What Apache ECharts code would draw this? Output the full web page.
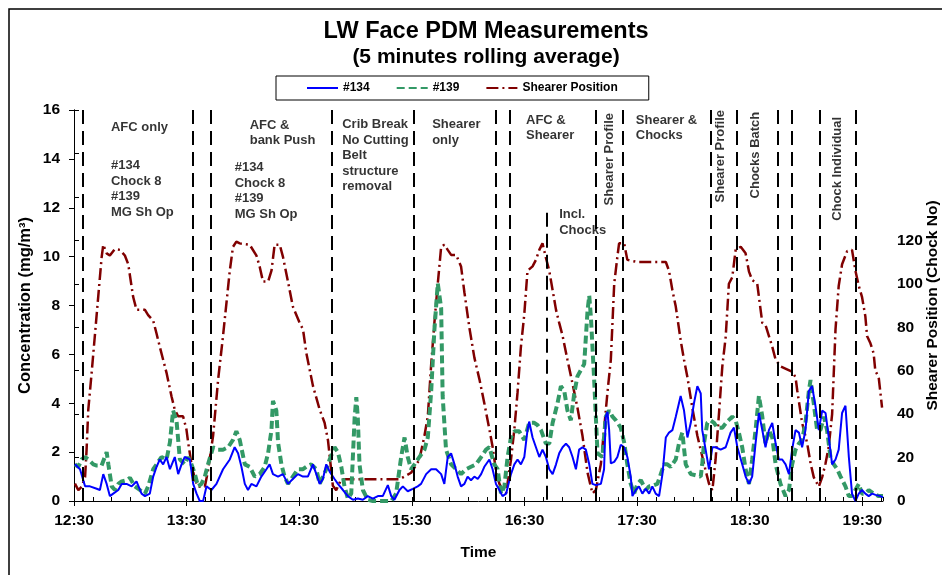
<!DOCTYPE html>
<html><head><meta charset="utf-8">
<script src="https://cdn.jsdelivr.net/npm/echarts@6/dist/echarts.min.js"></script>
<style>html,body{margin:0;padding:0;background:#fff;overflow:hidden}#c{width:942px;height:575px}</style>
</head><body><div id="c"></div><script>
// ---- data (time = minutes after 12:30) ----
const t134 = [0.5,3.2,5.9,8.5,12.1,13.8,15.6,17.4,19.1,20.9,23.6,25.4,28,30.7,33.3,36,37.8,40.4,42.2,44,45.7,47.5,49.3,51.1,53.7,55.5,57.3,59,61.7,63.5,65.3,67,68.8,70.6,73.2,75.9,79.4,83,85.6,87.4,89.2,91,92.7,94.5,97.2,99.8,102.5,104.2,106,108.7,111.3,114,116.6,119.3,122,124.6,127.3,129.1,130.9,132.6,134.4,136.2,138.8,140.6,143.3,145.9,148.6,151.2,153.9,156.5,159.2,161.9,164.5,167.2,169,170.7,173.4,175.2,177.8,180.5,183.1,184.9,187.6,190.3,192.9,195.6,197.3,199.1,200.9,202.7,204.4,206.2,208,209.7,211.5,213.3,215.1,216.9,218.6,221.3,223,224.8,226.6,228.3,230.2,232.8,234.6,236.3,238.1,239.9,241.6,242.5,244.3,246.1,247.9,249.6,251.4,253.2,255,256.8,258.5,260.3,262.1,263.8,265.6,267.4,269.1,270.9,272.7,274.5,276.2,278,280.7,282.4,283.3,284.2,285.1,286,287.8,289.5,291.3,293.1,294.8,296.6,297.5,299.3,301,302.8,304.6,306.4,308.1,309.9,311.7,313.5,315.3,317,318.8,320.6,323.2,325,326.8,328.6,330.3,332.1,333.9,334.7,336.5,338.3,340.1,341.8,344.5,347.2,349.8,351.6,353.4,356,357.8,359.6,361.3,363.1,364.9,366.7,368.4,370.2,372,373.8,375.5,377.3,379.1,380.9,382.6,384.4,386.2,387.9,389.7,391.5,393.2,395,396.8,398.6,400.4,402.1,403.9,405.7,407.4,409.2,411,412.8,414.5,416.3,418.1,419.8,421.6,423.4,425.2,427,429.6,431];
const v134 = [1.5,1.3,0.6,0.6,0.5,0.45,1.1,0.7,0.2,0.3,0.45,0.7,0.7,0.6,0.8,0.3,0.2,0.3,1.0,1.4,1.7,1.5,1.8,1.3,1.8,1.1,1.5,1.8,1.7,0.7,0.3,0,0,0.6,0.45,0.7,1.3,1.7,2.2,1.95,1.4,0.7,0.45,0.7,0.6,1.0,1.3,1.5,1.1,1.0,1.1,0.7,0.9,1.1,1.0,1.0,1.5,1.1,0.7,0.9,1.5,1.2,0.9,0.7,0.45,0.2,0.05,0.1,0.05,0.2,0.1,0.2,0.2,0.65,0.2,0.05,0.45,0.6,0.4,0.5,0.6,0.7,1.1,1.3,1.3,1.1,0.7,1.8,1.95,1.5,1.0,0.6,0.7,1.0,0.85,1.0,0.9,1.1,1.4,1.7,1.3,0.7,0.45,0.2,0.3,1.1,1.5,1.7,1.5,1.8,2.9,3.25,2.6,2.2,1.8,2.1,1.8,1.3,1.1,1.5,1.95,2.2,2.35,2.2,1.8,1.3,2.1,2.2,2.1,1.5,0.7,0.65,0.7,1.3,3.45,3.65,2.9,1.54,1.6,1.8,2.3,2.2,1.8,1.0,0.2,0.45,0.6,0.3,0.5,0.3,0.6,0.3,0.2,1.1,2.6,2.8,2.9,3.45,4.3,3.7,2.6,3.2,4.0,4.7,4.4,2.9,2.1,1.3,2.2,2.2,2.1,2.2,2.8,3.0,2.2,1.5,1.0,0.7,1.0,2.35,3.6,2.9,2.2,2.9,3.2,2.35,1.7,1.7,1.5,1.1,2.1,2.9,2.8,2.2,2.9,4.5,4.7,3.9,2.9,3.7,3.6,2.6,1.5,1.7,2.1,3.6,3.9,1.8,0.3,0.0,0.3,0.45,0.3,0.2,0.3,0.25,0.2,0.15];

const t139 = [0.5,2.3,4.1,5.9,7.6,10.3,12.1,14.7,17.4,18.3,20.1,21.8,23.6,25.4,28,29.8,32.4,35.1,37.8,39.5,42.2,44,46.6,49.3,51.1,52.8,54.6,56.4,59,60.8,62.6,64.4,66.1,67.9,69.7,71.4,74.1,76.8,79.4,82.1,84.7,86.5,88.3,91,93.6,96.3,98.9,101.6,103.4,105.2,106,107.8,108.7,110.5,112.2,114,116.6,119.3,122,123.8,126.4,129.1,130.9,134.4,136.2,138.8,140.6,142.4,144.1,145.9,147.7,149.5,150.4,151.2,152.1,153.9,156.5,159.2,164.5,169,171.6,174.3,176.1,177.8,179.6,181.4,184,186.7,188.5,190.3,192,193.8,195.6,196.4,198.2,200.9,203.6,206.2,208.9,211.5,214.2,216.9,219.5,221.3,223.9,225.7,227.5,229.3,231,232.8,234.6,237.2,239.9,242.5,245.2,247,248.8,251.4,253.2,255,257.6,259.4,261.2,262.9,264.7,266.5,268.2,270,271.8,273.6,274.5,275.4,277.1,278.9,281.5,283.3,285.1,286.9,288.7,291.3,293.1,294.8,296.6,298.4,300.2,302,304.6,306.4,309,310.8,312.6,314.4,316.1,317.9,320.6,322.3,324.1,325.9,328.6,331.2,333.9,334.7,335.6,337.4,339.2,341,342.7,345.4,348,350.7,352.5,354.2,356,357.8,359.6,361.3,363.1,364.9,366.7,368.4,370.2,372,373.8,376.4,379.1,380.9,382.6,384.4,386.2,387.9,389.7,391.5,392.4,394.1,395.9,397.7,399.5,401.2,403,404.8,406.6,408.4,411,412.8,414.5,416.3,418.1,419.8,421.6,423.4,426,428.7,431];
const v139 = [1.5,1.4,1.7,1.8,1.7,1.5,1.45,1.45,2.0,1.5,0.6,0.45,0.7,0.8,0.85,0.95,0.6,0.45,0.3,0.6,1.3,1.5,1.8,1.7,2.4,3.7,3.3,1.7,1.5,1.8,1.5,1.1,0.6,0.7,1.0,1.5,2.2,2.1,2.1,2.2,2.5,2.85,2.5,1.5,1.4,1.0,1.1,1.4,1.95,2.9,4.1,3.7,2.4,1.5,1.0,0.7,1.0,1.3,1.3,1.4,1.5,1.3,0.7,1.3,1.7,2.2,2.0,1.4,0.6,0.1,0.3,3.4,4.25,3.4,1.5,0.45,0.05,0,0,0,0.3,1.8,2.6,1.8,1.3,1.5,1.8,2.1,2.6,4.5,7.0,8.9,7.9,4.3,2.1,1.5,1.3,1.1,1.3,1.4,1.5,1.8,2.1,2.2,1.5,1.3,0.3,0.6,1.8,2.6,2.85,2.85,2.5,3.2,3.2,3.1,2.9,2.35,2.35,3.2,4.0,4.7,4.5,3.7,3.3,4.4,5.1,5.35,5.6,7.8,8.4,7.5,5.0,1.95,1.8,3.45,3.7,3.45,3.3,3.0,2.4,1.5,0.7,0.3,0.7,0.85,0.45,0.6,0.65,0.7,1.1,1.5,1.5,1.4,1.7,2.35,2.8,1.5,1.1,1.05,1.0,1.5,2.35,3.2,3.3,3.2,3.0,3.0,3.25,3.45,3.3,2.8,2.2,1.3,0.7,1.7,2.9,4.3,3.45,2.35,2.9,2.6,1.5,0.7,0.2,0.45,1.5,2.1,2.35,2.5,3.2,4.5,4.95,4.0,2.9,2.9,3.45,2.9,1.8,1.5,1.3,1.0,0.6,0.2,0.2,0.45,0.7,0.3,0.3,0.45,0.3,0.2,0.2];

const tShearer = [0.5,2.3,4.1,5.9,6.7,7.6,9.4,11.2,12.9,14.7,15.6,17.4,19.1,21.8,24.5,27.1,28.9,31.5,33.3,37.8,39.5,42.2,44,45.7,49.3,52,53.7,55.5,58.1,59.9,60.8,62.6,64.4,66.1,69.7,71.4,74.1,76.8,79.4,81.2,83,84.7,86.5,88.3,93.6,97.2,98.9,100.7,103.4,105.2,106.9,109.6,111.3,114,116.6,120.2,122,123.8,127.3,130.9,133.5,135.3,136.8,137.9,139.7,142.4,173.4,179.6,184,186.7,188.5,190.3,192,193.8,195.6,197.3,199.1,200.9,203.6,206.2,208,210.6,213.3,216,218.6,221.3,223,224.8,226.6,228.3,230.2,232.8,234.6,236.3,238.1,239.9,241.6,244.3,246.1,247.9,249.6,251.4,253.2,255,256.8,258.5,260.3,262.9,265.6,268.2,270.9,273.6,276.2,278,280.7,282.4,284.2,286,287.8,289.5,290.4,293.1,294.8,300.2,315.3,317,318.8,320.6,323.2,325,326.8,329.4,332.1,333.9,336.5,338.3,340.1,341.8,343.6,345.4,347.2,348.9,350.7,352.5,355.2,357.8,359.6,361.3,364,366.7,368.4,372,373.8,376.4,382.6,384.4,385.3,387.9,390.6,392.4,394.1,396.8,398.6,400.4,402.1,403.9,405.7,407.4,409.2,411.9,414.5,416.3,418.1,419.8,421.6,422.5,424.3,426,426.9,428.7,429.6,430.5];
const vShearer = [8,5,6.6,11,23.5,42,59,77,94,112,118,114,113,116,115.6,113,109,94,88,88,85.6,83,77,71,59,48,42,39,39,33,27,17,10,6.6,6.6,14,30,56,76,91,106,117,119.4,118.6,118,113,108,101,101,106,118,118,112.5,101,89.5,82,79,68,53,42,36,28,16,7,5,10,10,13,19,30,39,63,82,100,117,118,115.6,113.3,113.3,108,96,80,66,56,45,33,25,14,8,5,3.5,19,33,50,71,86,106,108,111,115.6,118.6,112,106,97,88,82,76,65,54,43,30,13,3.5,5,17,33,50,65,100,112.5,118.6,118.6,111,110,110,106,97,89.5,74,65,57,43,30,23.5,14,8,5,19,40,62,75.6,100,103,115.6,117,114,105.6,101.7,100,82,81,71,65,62,59.5,57,51,36,26.6,17.4,11,6.6,11,17.4,25,40,79,99,109,115,115.6,106,99,94,85,76,72.6,68,60,57,50,43];

// event marker lines (minutes after 12:30) and their top values (mg/m3 axis)
const eventT   = [4.8,63.3,72.9,137.2,180.9,224.5,232.4,251.6,278.2,292.6,339.4,353.2,375,382.4,397.3,416.5];
const eventTop = [16,16,16,16,16,16,16,11.8,16,16,16,16,16,16,16,16];

// annotations
const annText = ['AFC only','#134\nChock 8\n#139\nMG Sh Op','AFC &\nbank Push','#134\nChock 8\n#139\nMG Sh Op','Crib Break\nNo Cutting\nBelt\nstructure\nremoval','Shearer\nonly','AFC &\nShearer','Incl.\nChocks','Shearer Profile','Shearer &\nChocks','Shearer Profile','Chocks Batch','Chock Individual'];
const annT = [19.7,19.7,93.6,85.6,142.9,190.8,240.8,258.5,285.1,299.3,344.5,363.1,406.5];
const annV = [15.6,14.03,15.69,13.95,15.72,15.72,15.9,12.04,15.88,15.9,16.0,15.93,15.72];
const annVertical = [false,false,false,false,false,false,false,false,true,false,true,true,true];

const yLeftTicks = {min:0,max:16,interval:2};
const yRightTicks = {min:0,max:180,interval:20,maxLabel:120};
const xRange = {min:0,max:431,interval:60};

const FONT = "'Liberation Sans', Arial, Helvetica, sans-serif";
const startMin = 750;
function fmtTime(v){const t=startMin+Math.round(v);const h=Math.floor(t/60),m=t%60;return h+':'+(m<10?'0':'')+m;}
const zip=(a,b)=>a.map((x,i)=>[x,b[i]]);

const chart = echarts.init(document.getElementById('c'));
const bold = (s)=>({fontFamily:FONT,fontWeight:'bold',fontSize:s,color:'#000'});

chart.setOption({
  animation:false,
  backgroundColor:'#fff',
  graphic:[{type:'rect',shape:{x:9,y:9,width:1000,height:1000},style:{fill:'none',stroke:'#000',lineWidth:1.5},silent:true}],
  title:[
    {text:'LW Face PDM Measurements',left:481,textAlign:'center',top:15,textStyle:bold(23.5)},
    {text:'(5 minutes rolling average)',left:481,textAlign:'center',top:42,textStyle:bold(21)}
  ],
  legend:{
    data:['#134','#139','Shearer Position'],
    left:276,top:76,padding:[6,31,6,30],itemGap:26,itemWidth:31,itemHeight:10,
    borderColor:'#000',borderWidth:1,backgroundColor:'#fff',
    itemStyle:{opacity:0},
    textStyle:bold(12)
  },
  grid:{left:74,right:59,top:110,bottom:74,containLabel:false,outerBoundsMode:'none'},
  xAxis:[
    {type:'value',min:xRange.min,max:xRange.max,interval:xRange.interval,
     name:'Time',nameLocation:'middle',nameGap:44,nameMoveOverlap:false,nameTextStyle:bold(15.5),
     axisLine:{show:true,onZero:false,lineStyle:{color:'#000',width:1}},
     axisTick:{show:true,length:5,lineStyle:{color:'#000'}},
     axisLabel:{formatter:fmtTime,margin:12,...bold(15.5),showMaxLabel:false},
     splitLine:{show:false}},
    {type:'value',position:'bottom',min:xRange.min,max:xRange.max,interval:10,
     axisLine:{show:false},axisLabel:{show:false},splitLine:{show:false},
     axisTick:{show:true,inside:true,length:4,lineStyle:{color:'#000'}}}
  ],
  yAxis:[
    {type:'value',min:yLeftTicks.min,max:yLeftTicks.max,interval:yLeftTicks.interval,position:'left',
     name:'Concentration (mg/m³)',nameLocation:'middle',nameGap:40,nameMoveOverlap:false,nameTextStyle:bold(16.5),
     axisLine:{show:true,lineStyle:{color:'#000'}},axisTick:{show:true,length:5,lineStyle:{color:'#000'}},
     axisLabel:{margin:14,...bold(15.5)},splitLine:{show:false}},
    {type:'value',min:yRightTicks.min,max:yRightTicks.max,interval:yRightTicks.interval,position:'right',
     name:'Shearer Position (Chock No)',nameLocation:'middle',nameGap:42,nameMoveOverlap:false,nameTextStyle:bold(15.5),
     axisLine:{show:true,lineStyle:{color:'#000'}},axisTick:{show:true,length:5,lineStyle:{color:'#000'}},
     axisLabel:{margin:14,...bold(15.5),formatter:(v)=>v<=yRightTicks.maxLabel?String(v):''},splitLine:{show:false}}
  ],
  series:[
    {name:'Shearer Position',type:'line',yAxisIndex:1,data:zip(tShearer,vShearer),symbol:'none',showSymbol:false,z:2,
     lineStyle:{color:'#800000',width:2.5,type:[12,4,2,4]},itemStyle:{color:'#800000'}},
    {name:'#139',type:'line',yAxisIndex:0,data:zip(t139,v139),symbol:'none',showSymbol:false,z:3,
     lineStyle:{color:'#339966',width:4,type:[8,4]},itemStyle:{color:'#339966'}},
    {name:'#134',type:'line',yAxisIndex:0,data:zip(t134,v134),symbol:'none',showSymbol:false,z:4,
     lineStyle:{color:'#0000FF',width:2},itemStyle:{color:'#0000FF'}},
    {name:'events',type:'line',yAxisIndex:0,data:[],z:5,
     markLine:{silent:true,symbol:['none','none'],label:{show:false},animation:false,
       lineStyle:{color:'#000',width:2,type:[14,7]},
       data:eventT.map((t,i)=>[{coord:[t,eventTop[i]]},{coord:[t,0]}])}},
    {name:'notes',type:'scatter',yAxisIndex:0,symbolSize:0,silent:true,clip:false,z:6,
     data:annText.map((s,i)=>({value:[annT[i],annV[i]],name:s,
       label:annVertical[i]?{rotate:90,align:'right',verticalAlign:'middle',position:[0,0]}:{align:'left',verticalAlign:'top',position:[0,0]}})),
     label:{show:true,formatter:'{b}',fontFamily:FONT,fontWeight:'bold',fontSize:13,lineHeight:15.5,color:'#000'}}
  ]
});
</script></body></html>
